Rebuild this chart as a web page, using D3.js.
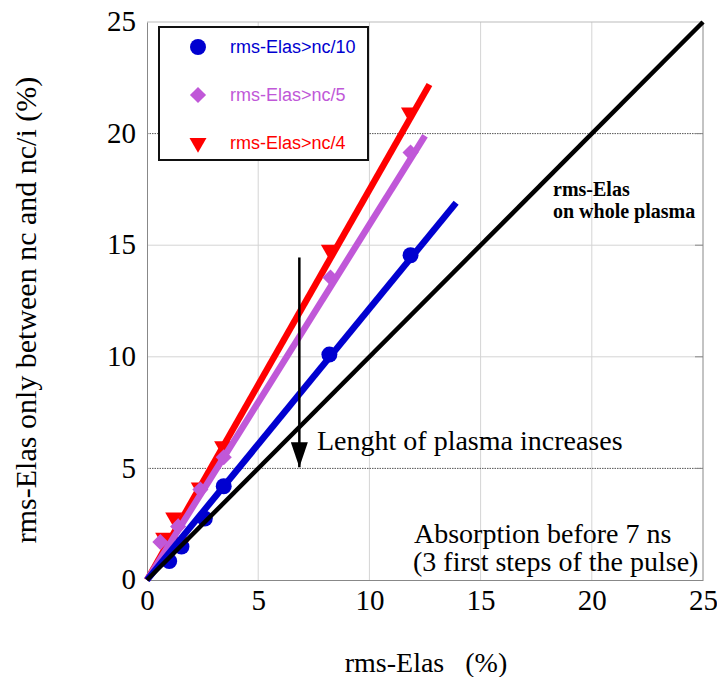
<!DOCTYPE html>
<html>
<head>
<meta charset="utf-8">
<script src="https://cdn.jsdelivr.net/npm/d3@7"></script>
<style>
  body { margin: 0; background: #fff; }
  text { font-family: "Liberation Serif", "Times New Roman", serif; }
</style>
</head>
<body>
<div class="canvas"></div>
<script>
// Data
const ticks = [0, 5, 10, 15, 20, 25];

const blueX = [1.0, 1.55, 2.6, 3.45, 8.2, 11.85];
const blueY = [0.85, 1.5, 2.75, 4.2, 10.1, 14.55];
const blueEnd = [13.9, 16.9];

const purpleX = [0.6, 1.4, 2.4, 3.45, 8.25, 11.85];
const purpleY = [1.7, 2.4, 4.05, 5.5, 13.55, 19.15];
const purpleEnd = [12.5, 19.9];

const redX = [0.75, 1.2, 1.6, 2.35, 3.4, 8.2, 11.8];
const redY = [1.9, 2.8, 1.7, 4.15, 6.0, 14.8, 20.95];
const redEnd = [12.7, 22.2];

const diagEnd = [25, 25];

const arrowFrom = [6.85, 14.45];
const arrowTo = [6.85, 5.05];

// Layout
const width = 717, height = 677;
const margin = { top: 22, right: 14, bottom: 97, left: 147 };
const graphWidth = width - margin.left - margin.right;
const graphHeight = height - margin.top - margin.bottom;

const svg = d3.select('.canvas')
    .append('svg')
    .attr('width', width)
    .attr('height', height);

const graph = svg.append('g')
    .attr('transform', `translate(${margin.left},${margin.top})`);

const x = d3.scaleLinear().domain([0, 25]).range([0, graphWidth]);
const y = d3.scaleLinear().domain([0, 25]).range([graphHeight, 0]);

// Grid
graph.selectAll('line.vgrid')
    .data(ticks.slice(1, 5))
    .enter().append('line')
    .attr('x1', d => x(d)).attr('x2', d => x(d))
    .attr('y1', 0).attr('y2', graphHeight)
    .attr('stroke', '#d4d4d4').attr('stroke-width', 1);

graph.selectAll('line.hgrid')
    .data(ticks.slice(1, 5))
    .enter().append('line')
    .attr('x1', 0).attr('x2', graphWidth)
    .attr('y1', d => y(d)).attr('y2', d => y(d))
    .attr('stroke', d => (d === 5 || d === 20) ? '#555' : '#d4d4d4')
    .attr('stroke-dasharray', d => (d === 5 || d === 20) ? '1.5,1' : null)
    .attr('stroke-width', 1);

// frame
graph.append('line').attr('x1', 0).attr('x2', graphWidth).attr('y1', 0).attr('y2', 0)
    .attr('stroke', '#bbb');
graph.append('line').attr('x1', graphWidth).attr('x2', graphWidth).attr('y1', 0).attr('y2', graphHeight)
    .attr('stroke', '#888');

// Axes
const xAxis = d3.axisBottom(x).tickValues(ticks).tickSize(0).tickPadding(10);
const yAxis = d3.axisLeft(y).tickValues(ticks).tickSize(0).tickPadding(11);

const gx = graph.append('g').attr('transform', `translate(0,${graphHeight})`).call(xAxis);
const gy = graph.append('g').call(yAxis);
[gx, gy].forEach(g => {
    g.select('.domain').attr('stroke', '#888');
    g.selectAll('text')
        .attr('fill', '#000')
        .style('font-family', '"Liberation Serif", serif')
        .style('font-size', '29px');
});
gx.selectAll('text').attr('dy', '0.7em');
gy.selectAll('text').attr('dy', '0.3em');

// right-side inner ticks
graph.selectAll('line.rtick')
    .data(ticks.slice(1, 5))
    .enter().append('line')
    .attr('x1', graphWidth - 8).attr('x2', graphWidth)
    .attr('y1', d => y(d)).attr('y2', d => y(d))
    .attr('stroke', '#888');

// Series
const series = [
    { name: 'rms-Elas>nc/4', color: '#ff0000', xs: redX, ys: redY, end: redEnd, shape: 'triangle' },
    { name: 'rms-Elas>nc/5', color: '#c058d8', xs: purpleX, ys: purpleY, end: purpleEnd, shape: 'diamond' },
    { name: 'rms-Elas>nc/10', color: '#0000d0', xs: blueX, ys: blueY, end: blueEnd, shape: 'circle' }
];

function markerPath(s) {
    if (s.shape === 'triangle') return d3.symbol().type(d3.symbolTriangle).size(125)();
    if (s.shape === 'diamond') return d3.symbol().type(d3.symbolSquare).size(130)();
    return d3.symbol().type(d3.symbolCircle).size(200)();
}
function markerTurn(s) {
    if (s.shape === 'triangle') return 'rotate(180)';
    if (s.shape === 'diamond') return 'rotate(45)';
    return '';
}

series.forEach(s => {
    const g = graph.append('g');
    g.append('line')
        .attr('x1', x(0)).attr('y1', y(0))
        .attr('x2', x(s.end[0])).attr('y2', y(s.end[1]))
        .attr('stroke', s.color).attr('stroke-width', 6.5);
    g.selectAll('path')
        .data(s.xs.map((v, i) => [v, s.ys[i]]))
        .enter().append('path')
        .attr('d', markerPath(s))
        .attr('transform', d => `translate(${x(d[0])},${y(d[1])})` + markerTurn(s))
        .attr('fill', s.color);
});

graph.append('line')
    .attr('x1', x(0)).attr('y1', y(0))
    .attr('x2', x(diagEnd[0])).attr('y2', y(diagEnd[1]))
    .attr('stroke', '#000').attr('stroke-width', 4.5);

// Arrow
svg.append('defs').append('marker')
    .attr('id', 'arrow')
    .attr('viewBox', '0 0 25 17')
    .attr('refX', 25).attr('refY', 8.5)
    .attr('markerWidth', 25).attr('markerHeight', 17)
    .attr('markerUnits', 'userSpaceOnUse')
    .attr('orient', 'auto')
    .append('path').attr('d', 'M0,0L25,8.5L0,17Z').attr('fill', '#000');

graph.append('line')
    .attr('x1', x(arrowFrom[0])).attr('y1', y(arrowFrom[1]))
    .attr('x2', x(arrowTo[0])).attr('y2', y(arrowTo[1]))
    .attr('stroke', '#000').attr('stroke-width', 2.5)
    .attr('marker-end', 'url(#arrow)');

svg.append('text')
    .attr('x', 317).attr('y', 450)
    .style('font-size', '28px')
    .text('Lenght of plasma increases');

// Diagonal label (two lines)
svg.append('text').attr('x', 553).attr('y', 196)
    .style('font-size', '20px').style('font-weight', 'bold')
    .text('rms-Elas');
svg.append('text').attr('x', 553).attr('y', 218)
    .style('font-size', '20px').style('font-weight', 'bold')
    .text('on whole plasma');

// Absorption note
svg.append('text').attr('x', 414).attr('y', 543)
    .style('font-size', '28px').text('Absorption before 7 ns');
svg.append('text').attr('x', 413).attr('y', 571)
    .style('font-size', '28px').text('(3 first steps of the pulse)');

// Axis titles
svg.append('text')
    .attr('x', 426).attr('y', 672)
    .attr('text-anchor', 'middle')
    .style('font-size', '28px')
    .text('rms-Elas\u00a0\u00a0\u00a0(%)');

svg.append('text')
    .attr('transform', 'translate(36,310)rotate(-90)')
    .attr('text-anchor', 'middle')
    .style('font-size', '30px')
    .text('rms-Elas only between nc and nc/i (%)');

// Legend
const legend = svg.append('g');
legend.append('rect')
    .attr('x', 159).attr('y', 27).attr('width', 209).attr('height', 133)
    .attr('fill', '#fff').attr('stroke', '#111').attr('stroke-width', 2);

series.slice().reverse().forEach((s, i) => {
    const cy = 47 + i * 48;
    legend.append('path')
        .attr('d', markerPath(s))
        .attr('transform', `translate(198,${cy})` + markerTurn(s))
        .attr('fill', s.color);
    legend.append('text')
        .attr('x', 230).attr('y', cy + 6)
        .attr('fill', s.color)
        .style('font-family', '"Liberation Sans", Arial, sans-serif')
        .style('font-size', '18px')
        .text(s.name);
});
</script>
</body>
</html>
